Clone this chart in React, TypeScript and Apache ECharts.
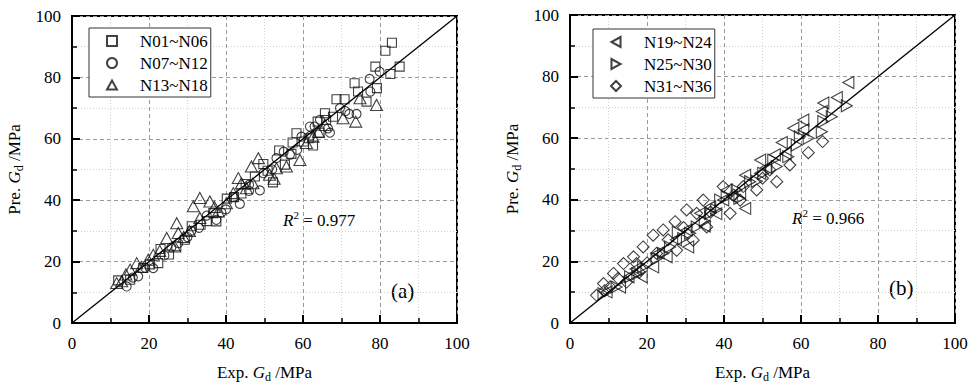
import React, { useEffect, useRef } from "react";
import * as echarts from "echarts";

const FONT = "'Liberation Serif', 'Times New Roman', serif";

const axisTicks = [0, 20, 40, 60, 80, 100];

// Panel (a)
const n01_06: number[][] = [
  [83.1, 91.3], [81.4, 88.7], [85.1, 83.5], [82.7, 81.1], [78.8, 83.5], [79.2, 76.5],
  [73.4, 78.1], [74.3, 75.4], [76.5, 72.1], [68.7, 72.9], [70.8, 72.9], [65.7, 68.3],
  [67.8, 67.2], [63.8, 65.6], [58.3, 61.8], [57.3, 58.8], [62.6, 57.8], [53.8, 56.2],
  [55.3, 51.6], [52.2, 45.8], [49.7, 51.8], [47.5, 47.7], [37.5, 33.1], [36.7, 35.8],
  [31.1, 31.5], [29.3, 27.1], [22.4, 19.5], [23.0, 24.1], [18.5, 17.9], [15.1, 14.1],
  [12.0, 13.9], [60.2, 59.1], [64.3, 62.0], [45.1, 45.3], [40.2, 40.5], [35.0, 33.2],
  [27.1, 25.0], [25.2, 22.3], [20.3, 19.1], [44.0, 42.2], [57.0, 55.1], [61.5, 60.2],
  [50.8, 49.6], [33.4, 32.0], [42.1, 41.0], [66.0, 66.1],
];
const n07_12: number[][] = [
  [79.9, 81.9], [77.3, 79.5], [77.5, 75.4], [69.6, 70.0], [72.0, 68.1], [73.9, 68.1],
  [61.8, 64.0], [64.4, 66.2], [66.5, 63.4], [59.6, 60.7], [56.6, 54.8], [53.1, 53.7],
  [49.7, 48.8], [48.8, 43.2], [43.6, 38.8], [37.5, 33.6], [27.6, 26.0], [21.1, 17.9],
  [17.2, 15.2], [14.2, 11.9], [67.0, 62.0], [63.0, 64.0], [62.0, 61.0], [52.0, 50.0],
  [46.0, 45.0], [42.0, 41.0], [40.0, 37.0], [33.0, 31.0], [31.0, 30.0], [24.0, 22.0],
  [19.0, 18.0], [30.0, 28.0], [46.0, 43.0], [35.0, 35.0], [58.5, 56.4], [55.0, 55.8],
  [38.8, 36.0], [25.8, 24.6], [15.8, 14.8], [71.0, 69.0],
];
const n13_18: number[][] = [
  [79.1, 71.0], [73.7, 65.6], [70.4, 66.7], [74.8, 73.2], [65.7, 64.5], [62.6, 60.7],
  [59.2, 53.1], [48.4, 53.7], [46.6, 51.0], [43.2, 47.2], [45.3, 43.9], [33.2, 40.7],
  [35.8, 39.6], [31.5, 38.0], [33.2, 34.2], [27.2, 32.5], [27.6, 29.3], [24.6, 27.7],
  [26.7, 24.9], [16.8, 19.5], [15.1, 17.4], [11.6, 13.0], [12.9, 13.6], [19.8, 20.6],
  [51.3, 48.3], [53.1, 50.4], [41.9, 42.3], [40.1, 39.0], [38.0, 36.3], [21.1, 22.2],
  [60.9, 58.6], [55.7, 51.0], [44.0, 45.5], [37.0, 37.8], [30.5, 30.0], [22.8, 23.5],
  [18.0, 18.3], [14.0, 15.8], [64.0, 62.2], [29.0, 28.0], [47.0, 45.5], [52.5, 47.0],
];

// Panel (b)
const n19_24: number[][] = [
  [72.3, 78.1], [69.3, 73.2], [65.4, 68.7], [58.0, 63.2], [60.6, 62.7], [55.0, 58.6],
  [53.2, 54.6], [49.4, 52.9], [45.5, 48.0], [45.5, 37.2], [40.7, 43.2], [36.4, 37.7],
  [30.3, 30.2], [21.6, 18.2], [18.6, 15.0], [13.0, 11.7], [25.1, 21.5], [33.8, 35.6],
  [30.7, 24.7], [39.8, 39.9], [49.4, 48.6], [44.2, 42.1], [15.2, 15.0], [9.5, 10.1],
  [65.8, 71.4], [60.6, 65.9], [27.5, 27.0], [35.0, 31.5], [42.0, 41.0], [51.0, 50.5],
  [23.0, 22.8], [17.0, 17.5], [56.0, 55.0], [38.0, 35.5],
];
const n25_30: number[][] = [
  [71.9, 70.5], [68.0, 67.0], [65.8, 65.4], [65.4, 62.1], [58.9, 57.8], [56.7, 54.0],
  [53.7, 50.8], [50.2, 48.6], [46.8, 45.9], [43.3, 43.2], [39.0, 39.9], [36.4, 35.6],
  [32.9, 31.2], [29.4, 27.4], [26.0, 24.7], [22.5, 20.9], [19.0, 18.2], [15.6, 15.0],
  [12.1, 11.7], [8.7, 9.5], [59.7, 60.5], [52.8, 52.9], [40.7, 41.0], [31.2, 29.1],
  [24.2, 22.6], [48.5, 46.0], [44.0, 40.5], [35.0, 33.0], [28.0, 29.5], [62.0, 60.0],
  [17.5, 16.0], [38.0, 36.8],
];
const n31_36: number[][] = [
  [65.6, 58.9], [61.9, 55.3], [57.1, 51.3], [51.9, 49.7], [48.5, 43.2], [44.2, 39.9],
  [41.6, 35.6], [34.6, 39.9], [30.3, 36.7], [27.3, 32.9], [24.2, 30.2], [19.0, 24.7],
  [21.6, 28.5], [16.5, 21.5], [13.9, 19.3], [11.3, 16.1], [8.7, 12.8], [6.9, 9.0],
  [35.5, 31.2], [27.7, 23.6], [22.5, 22.6], [17.3, 19.3], [14.7, 13.3], [10.4, 11.7],
  [39.8, 44.3], [32.9, 35.6], [45.0, 44.3], [53.7, 45.9], [32.0, 26.9], [25.5, 27.0],
  [29.5, 31.0], [20.0, 19.5], [36.5, 36.0], [42.5, 41.5], [12.5, 14.5], [9.0, 10.5],
  [50.0, 47.0], [18.0, 16.5],
];

const diagonal: number[][] = [[0, 0], [100, 100]];

const diamondPath = "path://M0,-10L10,0L0,10L-10,0Z";
const leftTri = "path://M10,0L0,5.5L10,11Z";
const rightTri = "path://M0,0L10,5.5L0,11Z";
const upTri = "path://M0,10L5.5,0L11,10Z";

function axisCfg(gridIndex: number, isX: boolean) {
  return {
    type: "value",
    gridIndex,
    min: axisTicks[0],
    max: axisTicks[axisTicks.length - 1],
    interval: 20,
    name: isX ? "{n|Exp. }{i|G}{s|d}{n| /MPa}" : "{n|Pre. }{i|G}{s|d}{n| /MPa}",
    nameLocation: "middle",
    nameGap: isX ? 38 : 47,
    nameTextStyle: {
      color: "#000",
      fontFamily: FONT,
      fontSize: 17,
      rich: {
        n: { fontFamily: FONT, fontSize: 17, color: "#000", lineHeight: 22 },
        i: { fontFamily: FONT, fontSize: 17, fontStyle: "italic", color: "#000", lineHeight: 22 },
        s: { fontFamily: FONT, fontSize: 12, color: "#000", lineHeight: 14, verticalAlign: "bottom" },
      },
    },
    axisLine: { show: true, onZero: false, lineStyle: { color: "#000", width: 2 } },
    axisTick: { show: true, inside: true, length: 8, lineStyle: { color: "#000", width: 2 } },
    minorTick: { show: true, splitNumber: 2, length: 5, lineStyle: { color: "#000", width: 1.5 } },
    axisLabel: { color: "#000", fontFamily: FONT, fontSize: 17, margin: isX ? 12 : 11 },
    splitLine: { show: true, lineStyle: { color: "#9a9a9a", width: 1, type: [4, 3] } },
    minorSplitLine: { show: true, lineStyle: { color: "#cfcfcf", width: 1, type: [1, 2] } },
  };
}

function scatter(name: string, data: number[][], idx: number, symbol: string, size: number | number[]) {
  return {
    type: "scatter",
    name,
    data,
    xAxisIndex: idx,
    yAxisIndex: idx,
    symbol,
    symbolSize: size,
    itemStyle: { color: "rgba(255,255,255,0)", borderColor: "#111", borderWidth: 1.1 },
    z: 3,
  };
}

function legendCfg(left: number, top: number, items: { name: string; icon: string }[]) {
  return {
    data: items,
    left,
    top,
    orient: "vertical",
    itemWidth: 10,
    itemHeight: 10,
    itemGap: 4,
    padding: [4, 3, 3, 17],
    borderColor: "#333",
    borderWidth: 1,
    backgroundColor: "#fff",
    textStyle: { color: "#000", fontFamily: FONT, fontSize: 17, lineHeight: 18, padding: [0, 0, 0, 18] },
  };
}

function richR(text: string) {
  return {
    rich: {
      i: { fontFamily: FONT, fontSize: 17, fontStyle: "italic", fill: "#000", lineHeight: 22 },
      p: { fontFamily: FONT, fontSize: 11, fill: "#000", lineHeight: 12, verticalAlign: "top" },
      n: { fontFamily: FONT, fontSize: 17, fill: "#000", lineHeight: 22 },
    },
    text,
  };
}

export default function App() {
  const ref = useRef<HTMLDivElement>(null);
  useEffect(() => {
    if (!ref.current) return;
    const chart = echarts.init(ref.current, undefined, { renderer: "svg" });
    chart.setOption({
      animation: false,
      backgroundColor: "#fff",
      grid: [
        { left: 72, top: 16, width: 385, height: 307, show: true, borderColor: "#000", borderWidth: 2, backgroundColor: "transparent" },
        { left: 570, top: 15, width: 385, height: 308, show: true, borderColor: "#000", borderWidth: 2, backgroundColor: "transparent" },
      ],
      xAxis: [axisCfg(0, true), axisCfg(1, true)],
      yAxis: [axisCfg(0, false), axisCfg(1, false)],
      legend: [
        legendCfg(89, 28, [
          { name: "N01~N06", icon: "rect" },
          { name: "N07~N12", icon: "circle" },
          { name: "N13~N18", icon: upTri },
        ]),
        legendCfg(593, 29, [
          { name: "N19~N24", icon: leftTri },
          { name: "N25~N30", icon: rightTri },
          { name: "N31~N36", icon: diamondPath },
        ]),
      ],
      graphic: [
        { type: "text", left: 283, top: 209, style: { ...richR("{i|R}{p|2}{n| = 0.977}") } },
        { type: "text", left: 792, top: 207, style: { ...richR("{i|R}{p|2}{n| = 0.966}") } },
        { type: "text", left: 391, top: 280, style: { text: "(a)", fontFamily: FONT, fontSize: 21, fill: "#000" } },
        { type: "text", left: 889, top: 277, style: { text: "(b)", fontFamily: FONT, fontSize: 21, fill: "#000" } },
      ],
      series: [
        { type: "line", data: diagonal, xAxisIndex: 0, yAxisIndex: 0, symbol: "none", lineStyle: { color: "#000", width: 1.3 }, z: 4, silent: true },
        { type: "line", data: diagonal, xAxisIndex: 1, yAxisIndex: 1, symbol: "none", lineStyle: { color: "#000", width: 1.3 }, z: 4, silent: true },
        scatter("N01~N06", n01_06, 0, "rect", 9),
        scatter("N07~N12", n07_12, 0, "circle", 9),
        scatter("N13~N18", n13_18, 0, upTri, [12, 11]),
        scatter("N19~N24", n19_24, 1, leftTri, [11, 12]),
        scatter("N25~N30", n25_30, 1, rightTri, [11, 12]),
        scatter("N31~N36", n31_36, 1, diamondPath, 12),
      ],
    });
    return () => chart.dispose();
  }, []);
  return <div ref={ref} style={{ position: "fixed", left: 0, top: 0, width: 978, height: 388 }} />;
}
